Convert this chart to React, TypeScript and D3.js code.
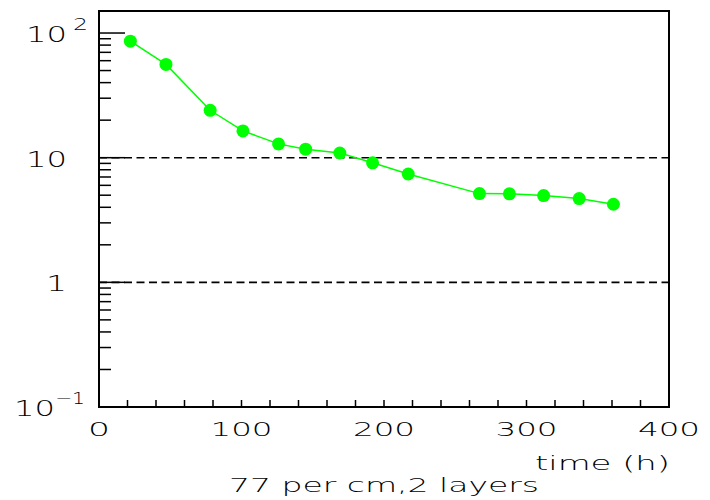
import React from "react";
import * as d3 from "d3";

const times = [22, 47, 78, 101, 126, 145, 169, 192, 217, 267, 288, 312, 337, 361];
const values = [86, 56, 24, 16.4, 12.9, 11.7, 10.9, 9.1, 7.4, 5.15, 5.13, 4.97, 4.7, 4.23];

const xTickLabels = [0, 100, 200, 300, 400];
const yTickValues = [0.1, 1, 10, 100];
const yTickBases = ["10", "1", "10", "10"];
const yTickExps = ["\u22121", "", "", "2"];
const gridValues = [1, 10];
const xTitle = "time (h)";
const caption = "77 per cm,2 layers";

const W = 710;
const H = 500;
const L = 99, R = 669, T = 11, B = 407;

export default function App() {
  const x = d3.scaleLinear().domain([0, 400]).range([L, R]);
  const y = d3.scaleLog().domain([0.1, 150.2]).range([B, T]);
  const line = d3
    .line<number>()
    .x((_, i) => x(times[i]))
    .y((v) => y(v));

  const minorX = d3.range(0, 401, 20);
  const minorY: number[] = [];
  for (const dec of [0.1, 1, 10]) {
    for (let k = 2; k <= 9; k++) minorY.push(dec * k);
  }
  const font = "'DejaVu Sans', sans-serif";
  const digitW = 20;
  const fw = 200;

  return (
    <svg
      width={W}
      height={H}
      style={{ position: "absolute", left: 0, top: 0, background: "#fff" }}
      fontFamily={font}
      fontWeight={fw}
    >
      <rect x={0} y={0} width={W} height={H} fill="#fff" />
      {gridValues.map((g) => (
        <line
          key={"g" + g}
          x1={L}
          x2={R}
          y1={y(g)}
          y2={y(g)}
          stroke="#000"
          strokeWidth={1.6}
          strokeDasharray="8,4.5"
        />
      ))}
      {minorX.map((t) => (
        <line key={"tx" + t} x1={x(t)} x2={x(t)} y1={B} y2={B - 7} stroke="#000" strokeWidth={1.5} />
      ))}
      {minorY.map((t) => (
        <line key={"ty" + t} x1={L} x2={L + 12} y1={y(t)} y2={y(t)} stroke="#000" strokeWidth={1.5} />
      ))}
      {yTickValues.map((t) => (
        <line key={"tY" + t} x1={L} x2={L + 26} y1={y(t)} y2={y(t)} stroke="#000" strokeWidth={1.5} />
      ))}
      <rect x={L} y={T} width={R - L} height={B - T} fill="none" stroke="#000" strokeWidth={2} />
      <path d={line(values) || ""} fill="none" stroke="#00ff00" strokeWidth={1.5} />
      {values.map((v, i) => (
        <circle key={"p" + i} cx={x(times[i])} cy={y(v)} r={6.5} fill="#00ff00" />
      ))}
      {xTickLabels.map((t) => {
        const s = String(t);
        return (
          <text
            key={"xl" + t}
            x={x(t)}
            y={B + 29}
            fontSize={20}
            textAnchor="middle"
            textLength={s.length * digitW + 2}
            lengthAdjust="spacingAndGlyphs"
          >
            {s}
          </text>
        );
      })}
      {yTickValues.map((t, i) => {
        const base = yTickBases[i];
        const exp = yTickExps[i];
        const yy = y(t) + 9;
        if (!exp) {
          return (
            <text
              key={"yl" + t}
              x={67}
              y={yy}
              fontSize={21}
              textAnchor="end"
              textLength={base.length * digitW + 1}
              lengthAdjust="spacingAndGlyphs"
            >
              {base}
            </text>
          );
        }
        const expLen = exp.length * 15;
        const expRight = exp.length > 1 ? 85 : 88;
        const baseRight = exp.length > 1 ? 55 : 67;
        return (
          <g key={"yl" + t}>
            <text
              x={baseRight}
              y={yy}
              fontSize={21}
              textAnchor="end"
              textLength={base.length * digitW + 1}
              lengthAdjust="spacingAndGlyphs"
            >
              {base}
            </text>
            <text
              x={expRight}
              y={yy - 12}
              fontSize={16}
              textAnchor="end"
              textLength={expLen}
              lengthAdjust="spacingAndGlyphs"
            >
              {exp}
            </text>
          </g>
        );
      })}
      <text
        x={R + 1}
        y={470}
        fontSize={20}
        textAnchor="end"
        textLength={135}
        lengthAdjust="spacingAndGlyphs"
      >
        {xTitle}
      </text>
      <text
        x={x(200)}
        y={492}
        fontSize={20}
        textAnchor="middle"
        textLength={310}
        lengthAdjust="spacingAndGlyphs"
      >
        {caption}
      </text>
    </svg>
  );
}
